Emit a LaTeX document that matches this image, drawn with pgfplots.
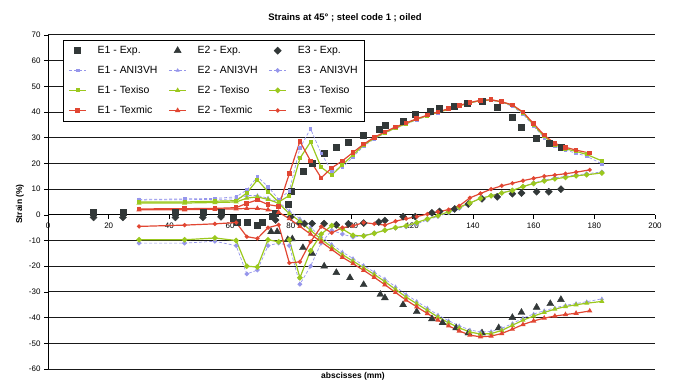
\documentclass[border=0pt]{standalone}
\usepackage{fontspec}
\setmainfont{Liberation Sans}
\usepackage{pgfplots}
\pgfplotsset{compat=1.18}
\definecolor{expc}{RGB}{50,56,56}
\definecolor{ani}{RGB}{150,150,235}
\definecolor{tiso}{RGB}{155,200,30}
\definecolor{tmic}{RGB}{225,70,50}
\begin{document}
\begin{tikzpicture}
\path[use as bounding box] (0,0) rectangle (676bp,380bp);
\begin{axis}[
  at={(48bp,11bp)}, anchor=south west,
  scale only axis, width=607bp, height=334bp,
  xmin=0, xmax=200, ymin=-60, ymax=70,
  xtick={0,20,...,200}, ytick={-60,-50,...,70},
  axis x line=middle, axis y line=left,
  axis line style={-, black, line width=0.8bp},
  every inner x axis line/.append style={-},
  every outer y axis line/.append style={-},
  hide obscured x ticks=false,
  tick align=outside, major tick length=4bp,
  tick style={black, line width=0.6bp},
  ymajorgrids, grid style={black!90, line width=1bp},
  /pgf/number format/assume math mode=true,
  tick label style={font=\fontsize{8}{9}\selectfont},
  xticklabel style={yshift=-1bp},
  legend columns=3,
  legend cell align=left,
  legend style={at={(0.025,0.985)}, anchor=north west, draw=black, line width=0.6bp,
    font=\fontsize{10.5}{12}\selectfont, row sep=7bp, column sep=9bp,
    inner xsep=5bp, inner ysep=4bp},
]
% ---- Experimental
\addplot[only marks, mark=square*, mark size=3bp, color=expc] coordinates {
(15,1)(24.7,1)(42,1)(51,1)(57,1.2)(61,-1.2)(62.5,-3)(65.5,-2.7)(69,-4)(70.5,-3)(74,-0.7)(75,0.8)(79,4.3)(80,9.3)(84,17)(87,20)(91,24)(95,26.5)(99,28.4)(104,31)(109,33.4)(111,35)(117,36.6)(121,39.3)(126,40.5)(129,41.6)(134,42.4)(138,43.6)(143,44.4)(148,42)(153,38)(156,34)(161,30)(165,28)(169,26.5)};
\addlegendentry{E1 - Exp.}
\addplot[only marks, mark=triangle*, mark size=4bp, color=expc] coordinates {
(73.5,-6.6)(75.5,-6.6)(79,-9.7)(80.5,-9.4)(84,-12.8)(87,-15)(91,-20)(95,-22.5)(99.5,-24.5)(104,-27.2)(109.5,-31)(111,-32.3)(117,-35)(121.5,-37.7)(126.5,-40.5)(130,-42)(134.5,-44)(138.5,-46)(143,-46)(148.5,-44)(153,-40)(156,-38)(161,-36)(165.5,-34.6)(169,-33)};
\addlegendentry{E2 - Exp.}
\addplot[only marks, mark=square*, mark options={rotate=45}, mark size=2.5bp, color=expc] coordinates {
(15,-1)(24.7,-1)(42,-1)(51,-1)(57,-0.8)(75,-2)(80,-0.8)(83,-3.2)(84.5,-3.4)(87,-3.4)(91,-3.4)(95,-3.9)(99,-3.5)(104,-3.2)(109,-2.8)(111,-2.2)(117,-0.7)(121,-0.7)(126.5,0.8)(129,1.3)(134,2.3)(138.5,4.2)(143,6.2)(148,7)(153,8.2)(156,8.5)(161,9)(165,9)(169,10)};
\addlegendentry{E3 - Exp.}
% ---- ANI3VH
\addplot[color=ani, line width=0.7bp, dash pattern=on 3bp off 2bp, mark=square*, mark size=1.3bp, mark options={solid}] coordinates {
(30,6)(45,6.2)(55,6.4)(62,7)(65.5,9.7)(69,14.8)(72.5,11)(76,6)(79.5,9.3)(83,26)(86.5,33.5)(90,24)(93.5,17)(97,18.5)(100.5,22.5)(104,26.8)(107.5,29.5)(111,31.8)(114.5,33.6)(118,35.3)(121.5,37)(125,38.4)(128.5,39.8)(132,41)(135.5,42.3)(139,43.5)(142.5,44.4)(146,44.6)(149.5,43.8)(153,42.2)(156.5,39.2)(160,34.5)(163.5,30)(167,26.8)(170.5,25.2)(174,24)(177.5,22.8)(182.5,19.8)};
\addlegendentry{E1 - ANI3VH}
\addplot[color=ani, line width=0.7bp, dash pattern=on 3bp off 2bp, mark=triangle*, mark size=1.7bp, mark options={solid}] coordinates {
(30,5.8)(45,5.9)(55,6)(62,6.2)(65.5,7.5)(69,7.5)(72.5,6.5)(76,5)(79.5,1.5)(83,-1.5)(86.5,-5)(90,-8.5)(93.5,-11.5)(97,-14.5)(100.5,-17)(104,-19.7)(107.5,-22.3)(111,-25)(114.5,-28)(118,-31)(121.5,-33.7)(125,-36.3)(128.5,-39)(132,-41.2)(135.5,-43.2)(139,-44.8)(142.5,-45.6)(146,-45.4)(149.5,-44.2)(153,-42.3)(156.5,-40.2)(160,-38.6)(163.5,-37.3)(167,-36.2)(170.5,-35.2)(174,-34.5)(177.5,-33.8)(182.5,-32.7)};
\addlegendentry{E2 - ANI3VH}
\addplot[color=ani, line width=0.7bp, dash pattern=on 3bp off 2bp, mark=square*, mark options={solid, rotate=45}, mark size=1.4bp] coordinates {
(30,-11)(45,-11)(55,-10.3)(62,-12)(65.5,-23)(69,-21.5)(72.5,-12)(76,-11)(79.5,-12)(83,-27)(86.5,-20)(90,-11)(93.5,-6)(97,-7.5)(100.5,-8.7)(104,-8)(107.5,-7)(111,-6)(114.5,-5.2)(118,-4.6)(121.5,-3.5)(125,-2)(128.5,-0.6)(132,0.8)(135.5,2.5)(139,4.5)(142.5,6.4)(146,7.5)(149.5,8.6)(153,9.6)(156.5,11)(160,12.4)(163.5,13.5)(167,14.4)(170.5,15)(174,15.5)(177.5,16)(182.5,16.7)};
\addlegendentry{E3 - ANI3VH}
% ---- Texiso
\addplot[color=tiso, line width=1.2bp, mark=square*, mark size=1.4bp] coordinates {
(30,5)(45,5)(55,5.3)(62,5.5)(65.5,8.5)(69,13.6)(72.5,9)(76,5)(79.5,7.5)(83,22)(86.5,28.4)(90,18.5)(93.5,15.5)(97,19.5)(100.5,23.3)(104,27.2)(107.5,29.8)(111,32)(114.5,33.8)(118,35.5)(121.5,37.2)(125,38.6)(128.5,39.9)(132,41.1)(135.5,42.4)(139,43.6)(142.5,44.5)(146,44.7)(149.5,44)(153,42.6)(156.5,39.8)(160,35)(163.5,30.5)(167,27.3)(170.5,25.7)(174,24.7)(177.5,23.5)(182.5,21)};
\addlegendentry{E1 - Texiso}
\addplot[color=tiso, line width=1.2bp, mark=triangle*, mark size=1.8bp] coordinates {
(30,4.6)(45,4.6)(55,4.8)(62,5)(65.5,6.5)(69,7)(72.5,6)(76,4.5)(79.5,0.5)(83,-2.5)(86.5,-6)(90,-9.5)(93.5,-12.5)(97,-15.5)(100.5,-18)(104,-20.6)(107.5,-23.2)(111,-26)(114.5,-29)(118,-32)(121.5,-34.6)(125,-37.2)(128.5,-39.8)(132,-42)(135.5,-44)(139,-45.6)(142.5,-46.4)(146,-46.2)(149.5,-45)(153,-43)(156.5,-41)(160,-39.4)(163.5,-38)(167,-36.7)(170.5,-35.7)(174,-35)(177.5,-34.4)(182.5,-33.7)};
\addlegendentry{E2 - Texiso}
\addplot[color=tiso, line width=1.2bp, mark=square*, mark options={rotate=45}, mark size=1.5bp] coordinates {
(30,-9.7)(45,-9.7)(55,-9)(62,-10)(65.5,-20)(69,-20.3)(72.5,-9.7)(76,-10.5)(79.5,-9.7)(83,-24.5)(86.5,-14)(90,-7.5)(93.5,-4.2)(97,-5.5)(100.5,-8)(104,-8.2)(107.5,-7.2)(111,-6)(114.5,-5)(118,-4.3)(121.5,-3)(125,-1.6)(128.5,-0.3)(132,1.2)(135.5,3)(139,4.6)(142.5,6.4)(146,7.4)(149.5,8.5)(153,9.5)(156.5,11)(160,12.2)(163.5,13.2)(167,14)(170.5,14.6)(174,15.2)(177.5,15.6)(182.5,16.3)};
\addlegendentry{E3 - Texiso}
% ---- Texmic
\addplot[color=tmic, line width=1.2bp, mark=square*, mark size=1.7bp] coordinates {
(30,2.3)(45,2.4)(55,2.5)(62,2.8)(65.5,4.5)(69,5.8)(72.5,4)(76,3.3)(79.5,16)(83,28.6)(86.5,21)(90,14.4)(93.5,18.3)(97,21)(100.5,24.3)(104,27.5)(107.5,30.2)(111,32.3)(114.5,34.2)(118,35.8)(121.5,37.4)(125,38.8)(128.5,40.1)(132,41.3)(135.5,42.6)(139,43.7)(142.5,44.6)(146,44.8)(149.5,44)(153,42.8)(156.5,40)(160,35.5)(163.5,31)(167,27.8)(170.5,26.3)(174,25.2)(178.5,24)};
\addlegendentry{E1 - Texmic}
\addplot[color=tmic, line width=1.2bp, mark=triangle*, mark size=1.9bp] coordinates {
(30,2)(45,2)(55,2.2)(62,2.3)(65.5,2.5)(69,2.5)(72.5,2)(76,1)(79.5,-1.5)(83,-4.5)(86.5,-7.5)(90,-10.5)(93.5,-13.5)(97,-16.5)(100.5,-19)(104,-21.6)(107.5,-24.3)(111,-27.2)(114.5,-30.2)(118,-33.2)(121.5,-35.8)(125,-38.4)(128.5,-41)(132,-43.2)(135.5,-45.2)(139,-46.8)(142.5,-47.5)(146,-47.2)(149.5,-46.2)(153,-44.5)(156.5,-42.7)(160,-41.3)(163.5,-40.2)(167,-39.4)(170.5,-38.8)(174,-38.3)(178.5,-37.4)};
\addlegendentry{E2 - Texmic}
\addplot[color=tmic, line width=1.2bp, mark=*, mark size=1.5bp] coordinates {
(30,-4.5)(45,-4)(55,-3.5)(62,-3)(65.5,-8.5)(69,-9.2)(72.5,-5)(76,-3.9)(79.5,-18.7)(83,-18.3)(86.5,-10.5)(90,-4.6)(93.5,-7)(97,-5)(100.5,-4.3)(104,-3)(107.5,-3.5)(111,-4)(114.5,-2.5)(118,-1.5)(121.5,-0.7)(125,0.3)(128.5,1.2)(132,2)(135.5,3.5)(139,6.6)(142.5,8.3)(146,10)(149.5,11.3)(153,12.3)(156.5,13.3)(160,14.2)(163.5,15)(167,15.5)(170.5,16)(174,16.6)(178.5,17.5)};
\addlegendentry{E3 - Texmic}
\end{axis}
\node[font=\bfseries\fontsize{9.5}{11}\selectfont] at (345bp,362bp) {Strains at 45° ; steel code 1 ; oiled};
\node[font=\bfseries\fontsize{8.5}{10}\selectfont, rotate=90] at (20bp,176bp) {Strain (\%)};
\node[font=\bfseries\fontsize{8.5}{10}\selectfont] at (353bp,4bp) {abscisses (mm)};
\end{tikzpicture}
\end{document}
